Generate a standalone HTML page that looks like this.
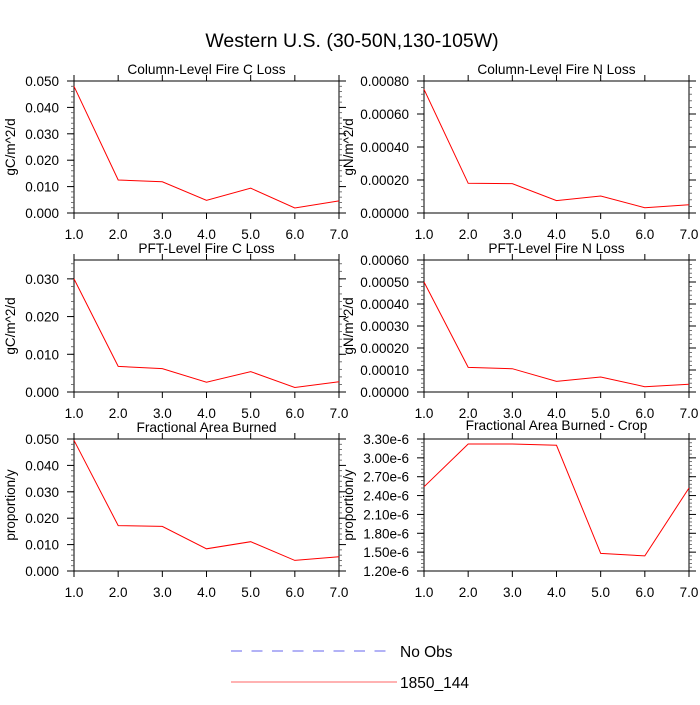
<!DOCTYPE html>
<html><head><meta charset="utf-8"><style>
body{margin:0;background:#fff}
svg text{font-family:"Liberation Sans",sans-serif;fill:#000}
</style></head><body>
<svg id="chart" width="700" height="700" xmlns="http://www.w3.org/2000/svg">
<text x="352" y="47" font-size="19.5" text-anchor="middle">Western U.S. (30-50N,130-105W)</text>
<g>
<line x1="231" y1="651" x2="389" y2="651" stroke="#6666ee" stroke-width="1" stroke-dasharray="11,9.5"/>
<text x="400" y="657" font-size="15.5">No Obs</text>
<line x1="231" y1="682" x2="397" y2="682" stroke="#ff6666" stroke-width="1"/>
<text x="400" y="688" font-size="15.5">1850_144</text>
</g>
</svg>
<script>
const xCats=[1,2,3,4,5,6,7];
const xTickLabels=["1.0","2.0","3.0","4.0","5.0","6.0","7.0"];
const titles=["Column-Level Fire C Loss","Column-Level Fire N Loss","PFT-Level Fire C Loss","PFT-Level Fire N Loss","Fractional Area Burned","Fractional Area Burned - Crop"];
const yTitles=["gC/m^2/d","gN/m^2/d","gC/m^2/d","gN/m^2/d","proportion/y","proportion/y"];
const colCLoss=[0.048,0.0125,0.0118,0.0048,0.0094,0.0019,0.0046];
const colNLoss=[0.00075,0.00018,0.000178,0.000075,0.000103,0.000032,0.00005];
const pftCLoss=[0.030,0.0068,0.0062,0.0026,0.0054,0.0012,0.0027];
const pftNLoss=[0.0005,0.000112,0.000106,0.000048,0.000068,0.000024,0.000035];
const areaBurned=[0.0495,0.0172,0.0169,0.0084,0.0111,0.0040,0.0054];
const areaBurnedCrop=[2.54e-6,3.22e-6,3.22e-6,3.20e-6,1.48e-6,1.44e-6,2.52e-6];
const yTicks1=[0,0.01,0.02,0.03,0.04,0.05];
const yTickLabels1=["0.000","0.010","0.020","0.030","0.040","0.050"];
const yTicks2=[0,0.0002,0.0004,0.0006,0.0008];
const yTickLabels2=["0.00000","0.00020","0.00040","0.00060","0.00080"];
const yTicks3=[0,0.01,0.02,0.03];
const yTickLabels3=["0.000","0.010","0.020","0.030"];
const yTicks4=[0,0.0001,0.0002,0.0003,0.0004,0.0005,0.0006];
const yTickLabels4=["0.00000","0.00010","0.00020","0.00030","0.00040","0.00050","0.00060"];
const yTicks6=[1.2e-6,1.5e-6,1.8e-6,2.1e-6,2.4e-6,2.7e-6,3.0e-6,3.3e-6];
const yTickLabels6=["1.20e-6","1.50e-6","1.80e-6","2.10e-6","2.40e-6","2.70e-6","3.00e-6","3.30e-6"];
const yMins=[0,0,0,0,0,1.2e-6];
const yMaxs=[0.05,0.0008,0.035,0.0006,0.05,3.3e-6];
const series=[colCLoss,colNLoss,pftCLoss,pftNLoss,areaBurned,areaBurnedCrop];
const ticks=[yTicks1,yTicks2,yTicks3,yTicks4,yTicks1,yTicks6];
const tickLabels=[yTickLabels1,yTickLabels2,yTickLabels3,yTickLabels4,yTickLabels1,yTickLabels6];
const NS="http://www.w3.org/2000/svg";
const svg=document.getElementById('chart');
function mk(tag,attrs,parent){const e=document.createElementNS(NS,tag);for(const k in attrs)e.setAttribute(k,attrs[k]);parent.appendChild(e);return e;}
const lefts=[74,424],tops=[81,260,439],W=265,H=132,yTitleX=[10,348];
for(let i=0;i<6;i++){
  const L=lefts[i%2],T=tops[Math.floor(i/2)],B=T+H,R=L+W;
  const g=mk('g',{},svg);
  
  
  const xs=v=>L+(v-1)/6*W;
  const ys=v=>B-(v-yMins[i])/(yMaxs[i]-yMins[i])*H;
  const fr=mk('rect',{x:L,y:T,width:W,height:H,fill:'none',stroke:'#000','stroke-width':1},g);
  
  
  const t=mk('text',{x:L+W/2,y:T-(i===5?9:7),'font-size':13.7,'text-anchor':'middle'},g);t.textContent=titles[i];
  
  
  const yt=mk('text',{x:0,y:0,'font-size':13.5,'text-anchor':'middle',transform:`translate(${yTitleX[i%2]+5},${T+H/2}) rotate(-90)`},g);yt.textContent=yTitles[i];
  
  
  xCats.forEach((c,j)=>{
    const x=xs(c);
    mk('line',{x1:x,y1:B,x2:x,y2:B+6,stroke:'#000'},g);
    mk('line',{x1:x,y1:T,x2:x,y2:T-6,stroke:'#000'},g);
    const tl=mk('text',{x:x,y:B+26,'font-size':13.5,'text-anchor':'middle'},g);tl.textContent=xTickLabels[j];
    
    
  });
  const tk=ticks[i];
  const step=tk[1]-tk[0];
  for(let v=yMins[i];v<=yMaxs[i]+step*1e-6;v+=step/5){
    const y=ys(v);
    mk('line',{x1:L,y1:y,x2:L-3,y2:y,stroke:'#555','stroke-width':0.8},g);
    mk('line',{x1:R,y1:y,x2:R+3,y2:y,stroke:'#555','stroke-width':0.8},g);
  }
  tk.forEach((v,j)=>{
    const y=ys(v);
    mk('line',{x1:L-7,y1:y,x2:L,y2:y,stroke:'#000'},g);
    mk('line',{x1:R,y1:y,x2:R+7,y2:y,stroke:'#000'},g);
    const tl=mk('text',{x:L-15,y:y+5,'font-size':13.5,'text-anchor':'end'},g);tl.textContent=tickLabels[i][j];
    
    
  });
  const pts=series[i].map((v,j)=>xs(xCats[j]).toFixed(1)+','+ys(v).toFixed(1)).join(' ');
  const pl=mk('polyline',{points:pts,fill:'none',stroke:'#ff0000','stroke-width':1},g);
  
  
}
</script>
</body></html>
